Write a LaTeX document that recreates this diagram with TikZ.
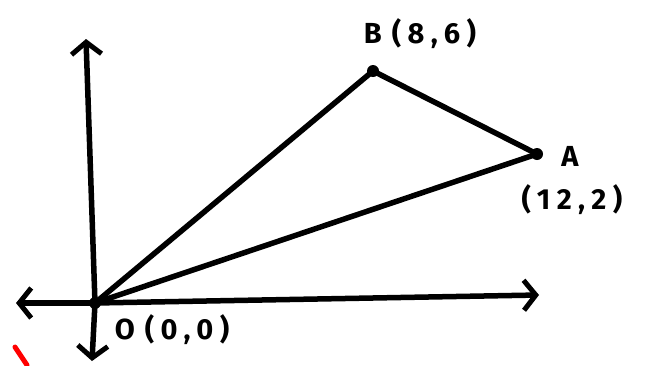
\documentclass[tikz,border=0pt]{standalone}
\usepackage{fontspec}
\setmainfont{Fira Sans}
\newfontfamily\hand[LetterSpace=22]{Fira Sans}
\usetikzlibrary{arrows.meta}
\begin{document}
\begin{tikzpicture}[x=1pt,y=-1pt,
  ink/.style={line width=5.5pt,line cap=round,line join=round},
  axis/.style={ink,-{Straight Barb[length=12pt,width=30pt,line width=5pt]}},
  dot/.style={circle,fill=black,inner sep=0pt,minimum size=12pt},
  lbl/.style={font=\hand\bfseries\fontsize{29}{31}\selectfont,inner sep=0pt}]
\useasboundingbox (0,0) rectangle (647,365);
% points
\node[dot] (O) at (95,303) {};
\node[dot] (B) at (373,71) {};
\node[dot] (A) at (537,154) {};
% axes ends
\coordinate (xl) at (16,303);
\coordinate (xr) at (539,295);
\coordinate (yt) at (86,39);
\coordinate (yb) at (92,361);
\draw[axis] (O.center) -- (xr);
\draw[axis] (O.center) -- (xl);
\draw[axis] (O.center) -- (yt);
\draw[axis] (O.center) -- (yb);
% triangle
\draw[ink] (O.center) -- (B.center);
\draw[ink] (B.center) -- (A.center);
\draw[ink] (A.center) -- (O.center);
% labels
\node[lbl] (lO) at (172,330) {O\hspace{10pt}(0,0)};
\node[lbl] (lB) at (420,34) {B\hspace{10pt}(8,6)};
\node[lbl] (lA) at (570,156) {A};
\node[lbl] (lA2) at (572,200) {(12,2)};
% red mark
\draw[red,line width=5pt,line cap=round] (15,347) -- (27,365);
\end{tikzpicture}
\end{document}
